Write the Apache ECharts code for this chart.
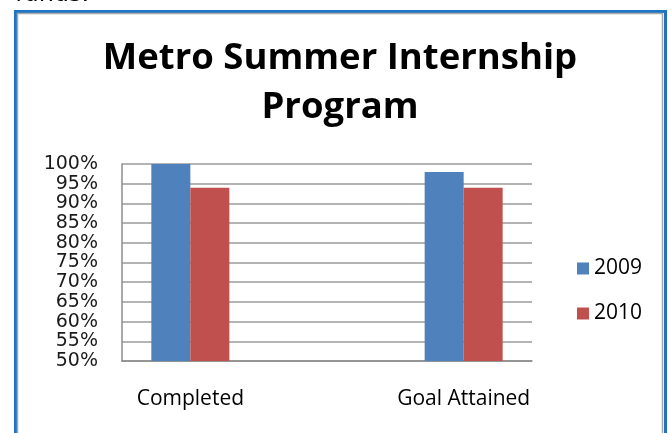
<!DOCTYPE html>
<html>
<head>
<meta charset="utf-8">
<script src="https://cdn.jsdelivr.net/npm/echarts@6/dist/echarts.min.js"></script>
<style>
  html, body { margin: 0; padding: 0; background: #fff; }
  #chart { width: 668px; height: 433px; }
</style>
</head>
<body>
<div id="chart"></div>
<script>
// categories (middle slot is the empty gap Excel left between the groups)
const categories = ['Completed', '', 'Goal Attained']
const seriesNames = ['2009', '2010']
const values2009 = [100, null, 98]
const values2010 = [94, null, 94]
const yTicks = { min: 50, max: 100, step: 5 }

const myChart = echarts.init(document.getElementById('chart'))

const labelFont = '"Open Sans", sans-serif'

let option = {
  animation: false,
  backgroundColor: '#fff',
  title: {
    text: 'Metro Summer Internship\nProgram',
    left: 340,
    top: 34,
    textAlign: 'center',
    padding: 0,
    textStyle: {
      fontFamily: labelFont,
      fontWeight: 'bold',
      fontSize: 36.5,
      lineHeight: 49,
      color: '#000'
    }
  },
  legend: {
    orient: 'vertical',
    left: 572,
    top: 253,
    icon: 'rect',
    itemWidth: 12,
    itemHeight: 12,
    itemGap: 24,
    itemTextGap: 7,
    data: seriesNames,
    textStyle: {
      fontFamily: labelFont,
      fontSize: 21,
      lineHeight: 20,
      color: '#000'
    }
  },
  grid: {
    left: 122,
    right: 136,
    top: 164,
    bottom: 72
  },
  xAxis: {
    type: 'category',
    data: categories,
    axisLine: { lineStyle: { color: '#8c8c8c', width: 1.5 } },
    axisTick: { show: false },
    axisLabel: {
      margin: 28,
      fontFamily: labelFont,
      fontSize: 21,
      color: '#000',
      interval: 0
    }
  },
  yAxis: {
    type: 'value',
    min: yTicks.min,
    max: yTicks.max,
    interval: yTicks.step,
    axisLine: { show: true, lineStyle: { color: '#8c8c8c', width: 1.5 } },
    axisTick: { show: false },
    splitLine: { lineStyle: { color: '#9a9a9a', width: 1.5 } },
    axisLabel: {
      margin: 24,
      formatter: '{value}%',
      fontFamily: '"DejaVu Sans", sans-serif',
      fontSize: 19,
      color: '#1a1a1a',
      showMinLabel: true,
      showMaxLabel: true
    }
  },
  series: [
    {
      name: seriesNames[0],
      type: 'bar',
      data: values2009,
      barWidth: 39,
      barGap: '0%',
      itemStyle: { color: '#4f81bd' }
    },
    {
      name: seriesNames[1],
      type: 'bar',
      data: values2010,
      barWidth: 39,
      barGap: '0%',
      itemStyle: { color: '#c0504d' }
    }
  ],
  graphic: [
    // frame of the pasted chart picture
    {
      type: 'rect',
      shape: { x: 15.5, y: 11.5, width: 650, height: 440 },
      style: { fill: null, stroke: '#1f74c4', lineWidth: 3 },
      silent: true
    },
    {
      type: 'rect',
      shape: { x: 17.5, y: 13.5, width: 645, height: 440 },
      style: { fill: null, stroke: '#a8a8a8', lineWidth: 1.5 },
      silent: true
    },
    // bottom of a text line cut off above the picture
    {
      type: 'text',
      left: 15,
      top: -17,
      style: {
        text: 'funds.',
        font: '24px "DejaVu Sans", sans-serif',
        fill: '#000'
      },
      silent: true
    }
  ]
}

myChart.setOption(option)
</script>
</body>
</html>
